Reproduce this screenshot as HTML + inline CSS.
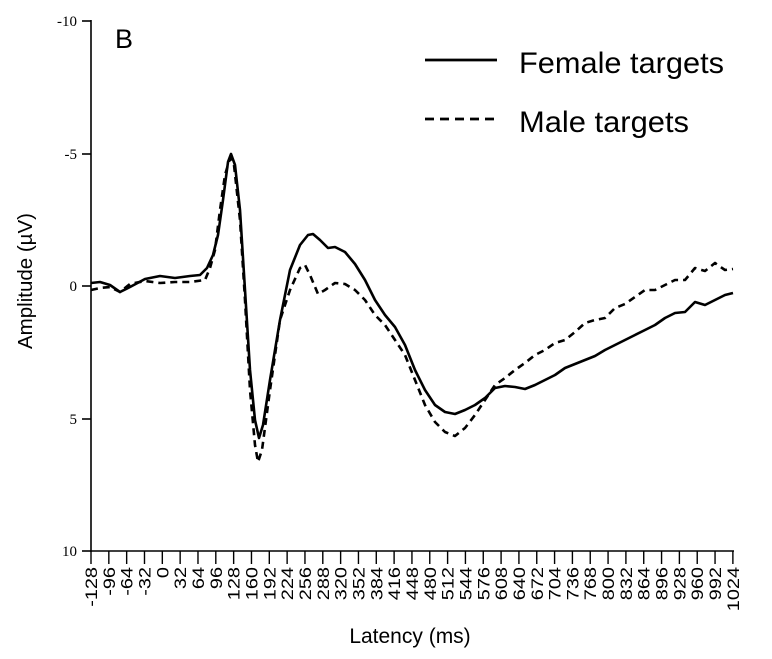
<!DOCTYPE html>
<html><head><meta charset="utf-8"><style>body{margin:0;background:#fff}</style></head><body>
<svg width="772" height="654" viewBox="0 0 772 654" xmlns="http://www.w3.org/2000/svg" font-family="Liberation Sans, sans-serif">
<rect width="772" height="654" fill="#fff"/>
<g stroke="#000" stroke-width="1.6" fill="none">
<line x1="91" y1="20" x2="91" y2="552"/>
<line x1="91" y1="551" x2="734" y2="551"/>
<line x1="82" y1="21" x2="91" y2="21"/><line x1="82" y1="154" x2="91" y2="154"/><line x1="82" y1="286" x2="91" y2="286"/><line x1="82" y1="419" x2="91" y2="419"/><line x1="82" y1="551" x2="91" y2="551"/>
</g>
<g font-family="Liberation Serif, serif" font-size="15" text-anchor="end">
<text x="77" y="26">-10</text><text x="77" y="159">-5</text><text x="77" y="291">0</text><text x="77" y="424">5</text><text x="77" y="556">10</text>
</g>
<g id="xt" stroke="#000" stroke-width="1.4"></g>
<g id="xl" font-size="17"></g>
<text x="115" y="48" font-size="27">B</text>
<line x1="425" y1="60" x2="497" y2="60" stroke="#000" stroke-width="2.8"/>
<line x1="425" y1="119" x2="497" y2="119" stroke="#000" stroke-width="2.8" stroke-dasharray="9,6"/>
<text x="519" y="73" font-size="30" textLength="205" lengthAdjust="spacingAndGlyphs">Female targets</text>
<text x="519" y="132" font-size="30" textLength="170" lengthAdjust="spacingAndGlyphs">Male targets</text>
<text transform="translate(32,281) rotate(-90)" text-anchor="middle" font-size="20.5">Amplitude (µV)</text>
<text x="410" y="643" text-anchor="middle" font-size="21">Latency (ms)</text>
<polyline fill="none" stroke="#000" stroke-width="2.6" stroke-linejoin="round" points="91,283 100,282 110,285 120,292 130,287 145,279 160,276 175,278 190,276 200,275 207,268 213,255 218,235 223,200 228,162 231,154 235,165 240,210 245,290 250,370 255,420 259,438 263,425 270,380 280,320 290,270 300,245 308,235 313,234 320,240 328,248 335,247 345,252 355,264 365,280 375,300 385,315 395,327 405,345 415,370 425,390 435,405 445,412 455,414 465,410 475,405 485,398 495,388 505,386 515,387 525,389 535,385 545,380 555,375 565,368 575,364 585,360 595,356 605,350 615,345 625,340 635,335 645,330 655,325 665,318 675,313 685,312 695,302 705,305 715,300 725,295 733,293"/>
<polyline fill="none" stroke="#000" stroke-width="2.6" stroke-dasharray="7,5" stroke-linejoin="round" points="91,290 100,288 110,287 120,292 130,284 145,281 160,283 175,282 190,282 205,280 210,268 215,250 220,210 225,175 230,158 234,165 240,220 245,300 250,390 255,445 258,462 262,450 270,390 280,320 290,290 300,268 305,265 310,275 318,294 325,290 335,283 345,284 355,290 365,300 375,315 385,325 395,340 405,355 415,380 425,405 435,422 445,432 455,436 465,428 475,415 485,400 495,385 505,378 515,370 525,363 535,355 545,350 555,343 565,340 575,332 585,323 595,320 605,318 615,308 625,304 635,297 645,290 655,290 665,285 675,280 685,280 695,268 705,271 715,263 725,270 733,269"/>
<script>
var ns="http://www.w3.org/2000/svg",t=document.getElementById('xt'),l=document.getElementById('xl');
for(var i=0;i<=36;i++){var x=91+i*17.83;var ln=document.createElementNS(ns,'line');ln.setAttribute('x1',x);ln.setAttribute('x2',x);ln.setAttribute('y1',551);ln.setAttribute('y2',564);t.appendChild(ln);
var tx=document.createElementNS(ns,'text');tx.setAttribute('transform','translate('+(x+6)+',567) rotate(-90) scale(1.17,1)');tx.setAttribute('text-anchor','end');tx.textContent=String(-128+i*32);l.appendChild(tx);}
</script>
</svg>
</body></html>
